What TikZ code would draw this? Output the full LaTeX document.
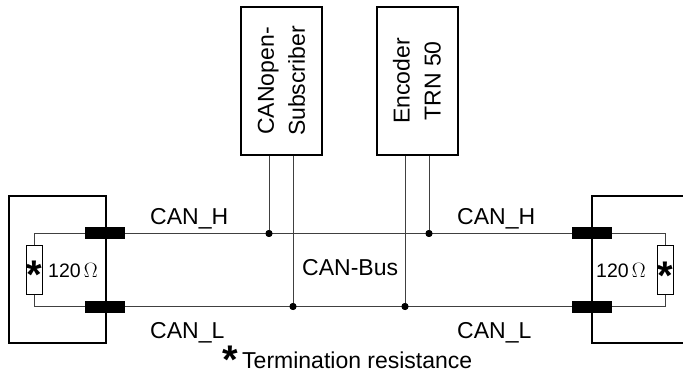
\documentclass[tikz,border=0pt]{standalone}
\usepackage{fontspec}
\setmainfont{Liberation Sans}
\begin{document}
\begin{tikzpicture}[x=1pt,y=-1pt,
  frame/.style={draw, line width=2pt, inner sep=0},
  devbox/.style={draw, line width=2pt, minimum width=148pt, minimum height=81pt, inner sep=0,
     rotate=90, align=center, font=\fontsize{23}{31}\selectfont},
  wire/.style={line width=1pt, draw=black!75},
  conn/.style={fill=black, draw=none, minimum width=40pt, minimum height=12pt, inner sep=0},
  resist/.style={draw, line width=1pt, minimum width=16pt, minimum height=48pt, inner sep=0},
  dot/.style={circle, fill=black, inner sep=0, minimum size=7pt},
  lbl/.style={font=\fontsize{23}{27}\selectfont, inner sep=0, anchor=base west},
  ohm/.style={font=\fontsize{19.5}{22}\selectfont, inner sep=0, anchor=base west},
  starsym/.style={font=\fontsize{40}{40}\selectfont\bfseries, inner sep=0, anchor=base}]
\useasboundingbox (0,0) rectangle (683,382);

% left terminal box
\node[frame, minimum width=97pt, minimum height=147pt] (lbox) at (57.5,269.5) {};
% right terminal box (open to the right)
\coordinate (rtop) at (683,196);
\coordinate (rbot) at (683,343);
\coordinate (redge) at (592,270);
\draw[line width=2pt] (rtop) -| (redge |- rbot) -- (rbot);

% devices
\node[devbox] (sub) at (281.5,81) {CANopen-\\Subscriber};
\node[devbox] (enc) at (417,81) {Encoder\\TRN 50};

% resistors
\node[resist] (rl) at (34,270) {};
\node[resist] (rr) at (665,270) {};

% connectors
\node[conn] (chl) at (105,233.5) {};
\node[conn] (cll) at (105,306.5) {};
\node[conn] (chr) at (592,233.5) {};
\node[conn] (clr) at (592,306.5) {};

% dots
\node[dot] (dh1) at (269,233.5) {};
\node[dot] (dl1) at (293,306.5) {};
\node[dot] (dl2) at (405,306.5) {};
\node[dot] (dh2) at (429,233.5) {};

% wires
\draw[wire] (rl.north) |- (chl.center) -- (chr.center) -| (rr.north);
\draw[wire] (rl.south) |- (cll.center) -- (clr.center) -| (rr.south);
\draw[wire] (dh1.center) -- (dh1 |- sub.west);
\draw[wire] (dl1.center) -- (dl1 |- sub.west);
\draw[wire] (dl2.center) -- (dl2 |- enc.west);
\draw[wire] (dh2.center) -- (dh2 |- enc.west);
\node[conn] at (chl) {};
\node[conn] at (cll) {};
\node[conn] at (chr) {};
\node[conn] at (clr) {};
\node[dot] at (dh1) {};
\node[dot] at (dl1) {};
\node[dot] at (dl2) {};
\node[dot] at (dh2) {};

% labels
\node[lbl] (lh1) at (150,225) {CAN\_H};
\node[lbl] (ll1) at (150,338) {CAN\_L};
\node[lbl] (lh2) at (457,225) {CAN\_H};
\node[lbl] (ll2) at (457,338) {CAN\_L};
\node[lbl] (bus) at (302,276) {CAN-Bus};
\node[ohm] (ohml) at (48,277) {120\,$\Omega$};
\node[ohm] (ohmr) at (596,277) {120\,$\Omega$};
\node[starsym] (stl) at ([yshift=-19pt]rl.center) {*};
\node[starsym] (str) at ([yshift=-20pt]rr.center) {*};
\node[starsym] (stn) at (230,373) {*};
\node[lbl] (note) at (242,368) {Termination resistance};
\end{tikzpicture}
\end{document}
